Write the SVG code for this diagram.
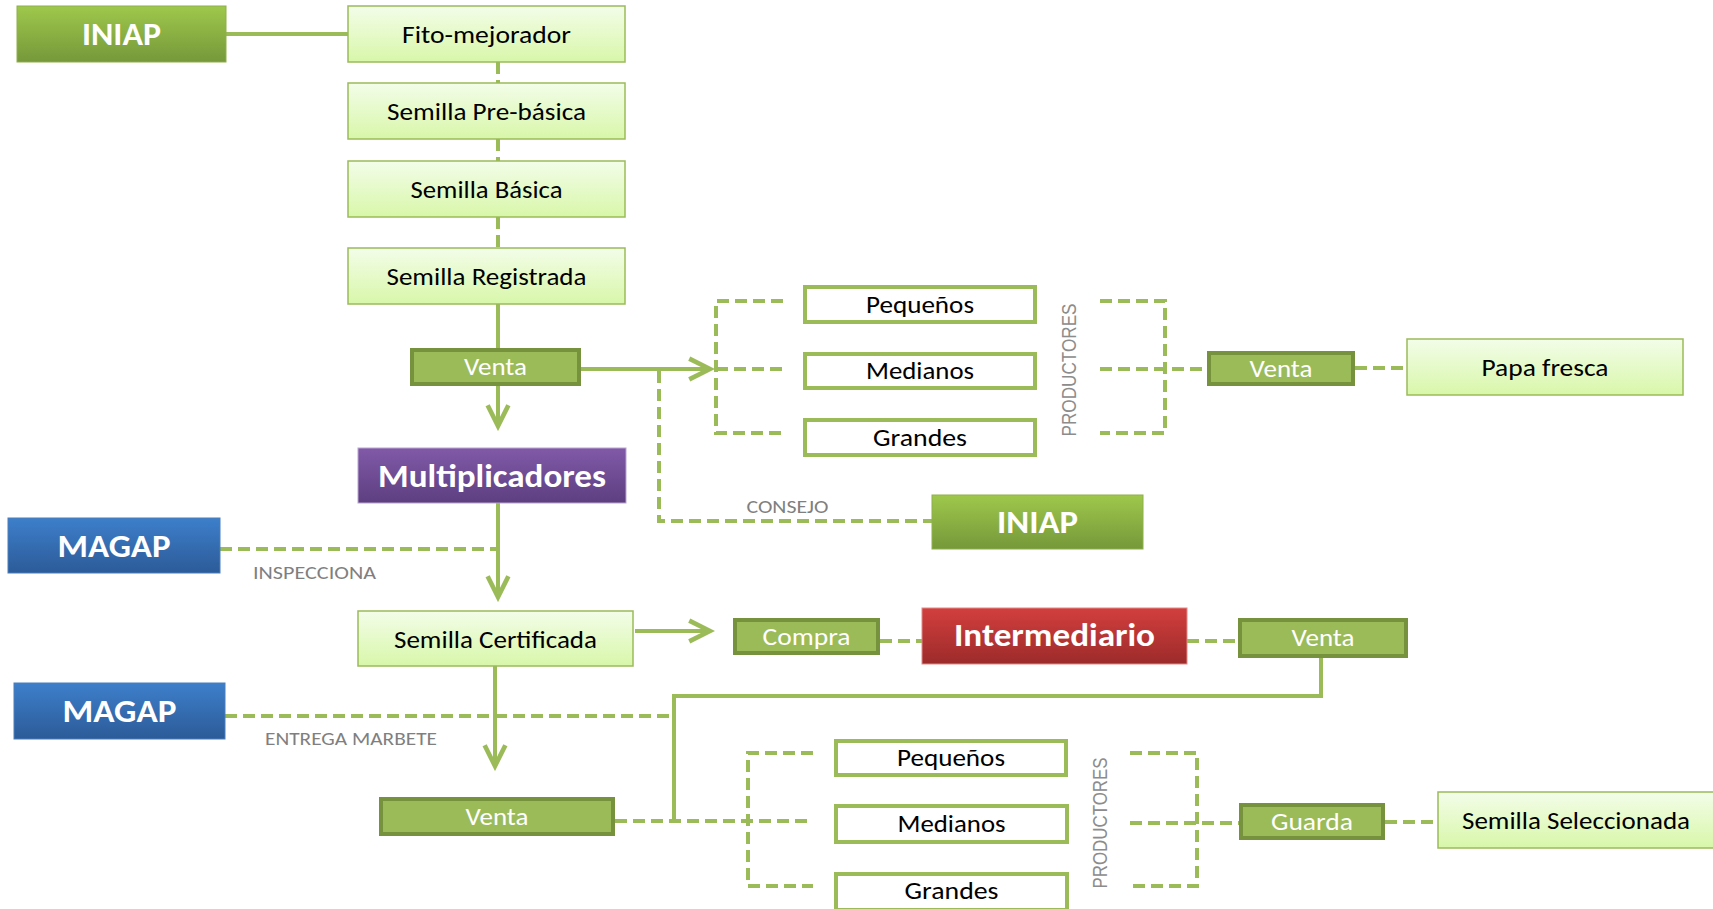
<svg xmlns="http://www.w3.org/2000/svg" width="1713" height="909" viewBox="0 0 1713 909">
<defs>
<linearGradient id="gLight" x1="0" y1="0" x2="0" y2="1"><stop offset="0" stop-color="#F3FDE9"/><stop offset="1" stop-color="#D8F7A9"/></linearGradient>
<linearGradient id="gGreen" x1="0" y1="0" x2="0" y2="1"><stop offset="0" stop-color="#9EC84C"/><stop offset="1" stop-color="#76983A"/></linearGradient>
<linearGradient id="gPurple" x1="0" y1="0" x2="0" y2="1"><stop offset="0" stop-color="#8159A8"/><stop offset="1" stop-color="#5D3F80"/></linearGradient>
<linearGradient id="gBlue" x1="0" y1="0" x2="0" y2="1"><stop offset="0" stop-color="#3D7FCB"/><stop offset="1" stop-color="#2C5B98"/></linearGradient>
<linearGradient id="gRed" x1="0" y1="0" x2="0" y2="1"><stop offset="0" stop-color="#D23F3E"/><stop offset="1" stop-color="#9C2B2A"/></linearGradient>
<marker id="arr" markerUnits="userSpaceOnUse" markerWidth="30" markerHeight="30" viewBox="-22 -12 26 24" refX="0" refY="0" orient="auto">
<path d="M-18,-9 L0,0 L-18,9" fill="none" stroke="#9BBB59" stroke-width="4"/>
</marker>
<style>
.light{fill:url(#gLight);stroke:#9BBB59;stroke-width:1.5}
.venta{fill:#9BBB59;stroke:#76923C;stroke-width:4}
.white{fill:#FFFFFF;stroke:#9BBB59;stroke-width:4}
.t{font-family:Carlito,Lato,"Liberation Sans",sans-serif;font-size:25px;fill:#000;text-anchor:middle}
.tw{font-family:Carlito,Lato,"Liberation Sans",sans-serif;font-size:25px;fill:#FFF;text-anchor:middle}
.tb{font-family:Carlito,Lato,"Liberation Sans",sans-serif;font-size:32px;font-weight:bold;fill:#FFF;text-anchor:middle}
.lab{font-family:Carlito,Lato,"Liberation Sans",sans-serif;font-size:19px;fill:#7F7F7F;text-anchor:middle}
.prod{font-family:"Liberation Sans",Arial,sans-serif;font-size:21px;fill:#8C8C8C;text-anchor:middle}
.s{fill:none;stroke:#9BBB59;stroke-width:4}
.d{fill:none;stroke:#9BBB59;stroke-width:4;stroke-dasharray:12 6}
</style>
</defs>
<rect width="1713" height="909" fill="#FFFFFF"/>

<g id="connectors">
<line class="s" x1="226" y1="34" x2="348" y2="34"/>
<line class="d" x1="498" y1="62" x2="498" y2="83"/>
<line class="d" x1="498" y1="139" x2="498" y2="161"/>
<line class="d" x1="498" y1="217" x2="498" y2="248"/>
<line class="s" x1="498" y1="304" x2="498" y2="348"/>
<line class="s" x1="498" y1="386" x2="498" y2="426" marker-end="url(#arr)"/>
<line class="s" x1="581" y1="369" x2="710" y2="369" marker-end="url(#arr)"/>
<polyline class="d" points="659,371 659,521 932,521"/>
<polyline class="d" points="783,301 716,301 716,433 783,433"/>
<line class="d" x1="716" y1="369" x2="783" y2="369"/>
<polyline class="d" points="1100,301 1165,301 1165,433 1100,433"/>
<line class="d" x1="1100" y1="369" x2="1207" y2="369"/>
<line class="d" x1="1355" y1="368" x2="1407" y2="368"/>
<line class="s" x1="498" y1="503" x2="498" y2="597" marker-end="url(#arr)"/>
<line class="d" x1="220" y1="549" x2="498" y2="549"/>
<line class="s" x1="635" y1="631" x2="710" y2="631" marker-end="url(#arr)"/>
<line class="d" x1="880" y1="641" x2="922" y2="641"/>
<line class="d" x1="1187" y1="641" x2="1238" y2="641"/>
<polyline class="s" points="1321,658 1321,696 674,696 674,821"/>
<line class="d" x1="225" y1="716" x2="674" y2="716"/>
<line class="s" x1="495" y1="666" x2="495" y2="766" marker-end="url(#arr)"/>
<line class="d" x1="615" y1="821" x2="813" y2="821"/>
<polyline class="d" points="813,753 748,753 748,886 813,886"/>
<polyline class="d" points="1130,753 1197,753 1197,886 1130,886"/>
<line class="d" x1="1130" y1="823" x2="1239" y2="823"/>
<line class="d" x1="1385" y1="822" x2="1438" y2="822"/>
</g>

<g id="iniap1"><rect x="17" y="6" width="209" height="56" fill="url(#gGreen)" stroke="#8DB04A" stroke-width="1"/><text class="tb" x="121.5" y="45" textLength="79" lengthAdjust="spacingAndGlyphs">INIAP</text></g>
<g id="fito"><rect class="light" x="348" y="6" width="277" height="56"/><text class="t" x="486.5" y="43" textLength="169" lengthAdjust="spacingAndGlyphs">Fito-mejorador</text></g>
<g id="prebasica"><rect class="light" x="348" y="83" width="277" height="56"/><text class="t" x="486.5" y="120" textLength="199" lengthAdjust="spacingAndGlyphs">Semilla Pre-básica</text></g>
<g id="basica"><rect class="light" x="348" y="161" width="277" height="56"/><text class="t" x="486.5" y="198" textLength="152" lengthAdjust="spacingAndGlyphs">Semilla Básica</text></g>
<g id="registrada"><rect class="light" x="348" y="248" width="277" height="56"/><text class="t" x="486.5" y="285" textLength="200" lengthAdjust="spacingAndGlyphs">Semilla Registrada</text></g>
<g id="venta1"><rect class="venta" x="412" y="350" width="167" height="34"/><text class="tw" x="495.5" y="375" textLength="63" lengthAdjust="spacingAndGlyphs">Venta</text></g>
<g id="multiplicadores"><rect x="358" y="448" width="268" height="55" fill="url(#gPurple)" stroke="#B9A6CF" stroke-width="1"/><text class="tb" x="492" y="487" textLength="228" lengthAdjust="spacingAndGlyphs">Multiplicadores</text></g>

<g id="pequenos1"><rect class="white" x="805" y="287" width="230" height="35"/><text class="t" x="920" y="313" textLength="108" lengthAdjust="spacingAndGlyphs">Pequeños</text></g>
<g id="medianos1"><rect class="white" x="805" y="354" width="230" height="34"/><text class="t" x="920" y="379" textLength="108" lengthAdjust="spacingAndGlyphs">Medianos</text></g>
<g id="grandes1"><rect class="white" x="805" y="420" width="230" height="35"/><text class="t" x="920" y="446" textLength="94" lengthAdjust="spacingAndGlyphs">Grandes</text></g>
<g id="productores1"><text class="prod" transform="translate(1076,370) rotate(-90)" textLength="133" lengthAdjust="spacingAndGlyphs">PRODUCTORES</text></g>
<g id="venta2"><rect class="venta" x="1209" y="353" width="144" height="31"/><text class="tw" x="1281" y="377" textLength="63" lengthAdjust="spacingAndGlyphs">Venta</text></g>
<g id="papafresca"><rect class="light" x="1407" y="339" width="276" height="56"/><text class="t" x="1545" y="376" textLength="127" lengthAdjust="spacingAndGlyphs">Papa fresca</text></g>

<g id="consejo"><text class="lab" x="787.5" y="513" textLength="82" lengthAdjust="spacingAndGlyphs">CONSEJO</text></g>
<g id="iniap2"><rect x="932" y="495" width="211" height="54" fill="url(#gGreen)" stroke="#8DB04A" stroke-width="1"/><text class="tb" x="1037.5" y="533" textLength="81" lengthAdjust="spacingAndGlyphs">INIAP</text></g>

<g id="magap1"><rect x="8" y="518" width="212" height="55" fill="url(#gBlue)" stroke="#4A7EBB" stroke-width="1"/><text class="tb" x="114" y="557" textLength="113" lengthAdjust="spacingAndGlyphs">MAGAP</text></g>
<g id="inspecciona"><text class="lab" x="314.5" y="579" textLength="123" lengthAdjust="spacingAndGlyphs">INSPECCIONA</text></g>
<g id="certificada"><rect class="light" x="358" y="611" width="275" height="55"/><text class="t" x="495.5" y="648" textLength="203" lengthAdjust="spacingAndGlyphs">Semilla Certificada</text></g>
<g id="compra"><rect class="venta" x="735" y="620" width="143" height="33"/><text class="tw" x="806.5" y="645" textLength="88" lengthAdjust="spacingAndGlyphs">Compra</text></g>
<g id="intermediario"><rect x="922" y="608" width="265" height="56" fill="url(#gRed)" stroke="#E08A88" stroke-width="1"/><text class="tb" x="1054.5" y="646" textLength="201" lengthAdjust="spacingAndGlyphs">Intermediario</text></g>
<g id="venta3"><rect class="venta" x="1240" y="620" width="166" height="36"/><text class="tw" x="1323" y="646" textLength="63" lengthAdjust="spacingAndGlyphs">Venta</text></g>

<g id="magap2"><rect x="14" y="683" width="211" height="56" fill="url(#gBlue)" stroke="#4A7EBB" stroke-width="1"/><text class="tb" x="119.5" y="722" textLength="114" lengthAdjust="spacingAndGlyphs">MAGAP</text></g>
<g id="entrega"><text class="lab" x="351" y="745" textLength="172" lengthAdjust="spacingAndGlyphs">ENTREGA MARBETE</text></g>
<g id="venta4"><rect class="venta" x="381" y="799" width="232" height="35"/><text class="tw" x="497" y="825" textLength="63" lengthAdjust="spacingAndGlyphs">Venta</text></g>

<g id="pequenos2"><rect class="white" x="836" y="741" width="230" height="34"/><text class="t" x="951" y="766" textLength="108" lengthAdjust="spacingAndGlyphs">Pequeños</text></g>
<g id="medianos2"><rect class="white" x="836" y="806" width="231" height="36"/><text class="t" x="951.5" y="832" textLength="108" lengthAdjust="spacingAndGlyphs">Medianos</text></g>
<g id="grandes2"><rect class="white" x="836" y="874" width="231" height="36"/><text class="t" x="951.5" y="899" textLength="94" lengthAdjust="spacingAndGlyphs">Grandes</text></g>
<g id="productores2"><text class="prod" transform="translate(1107,823) rotate(-90)" textLength="131" lengthAdjust="spacingAndGlyphs">PRODUCTORES</text></g>
<g id="guarda"><rect class="venta" x="1241" y="805" width="142" height="33"/><text class="tw" x="1312" y="830" textLength="82" lengthAdjust="spacingAndGlyphs">Guarda</text></g>
<g id="seleccionada"><rect class="light" x="1438" y="792" width="276" height="56"/><text class="t" x="1576" y="829" textLength="228" lengthAdjust="spacingAndGlyphs">Semilla Seleccionada</text></g>
</svg>
